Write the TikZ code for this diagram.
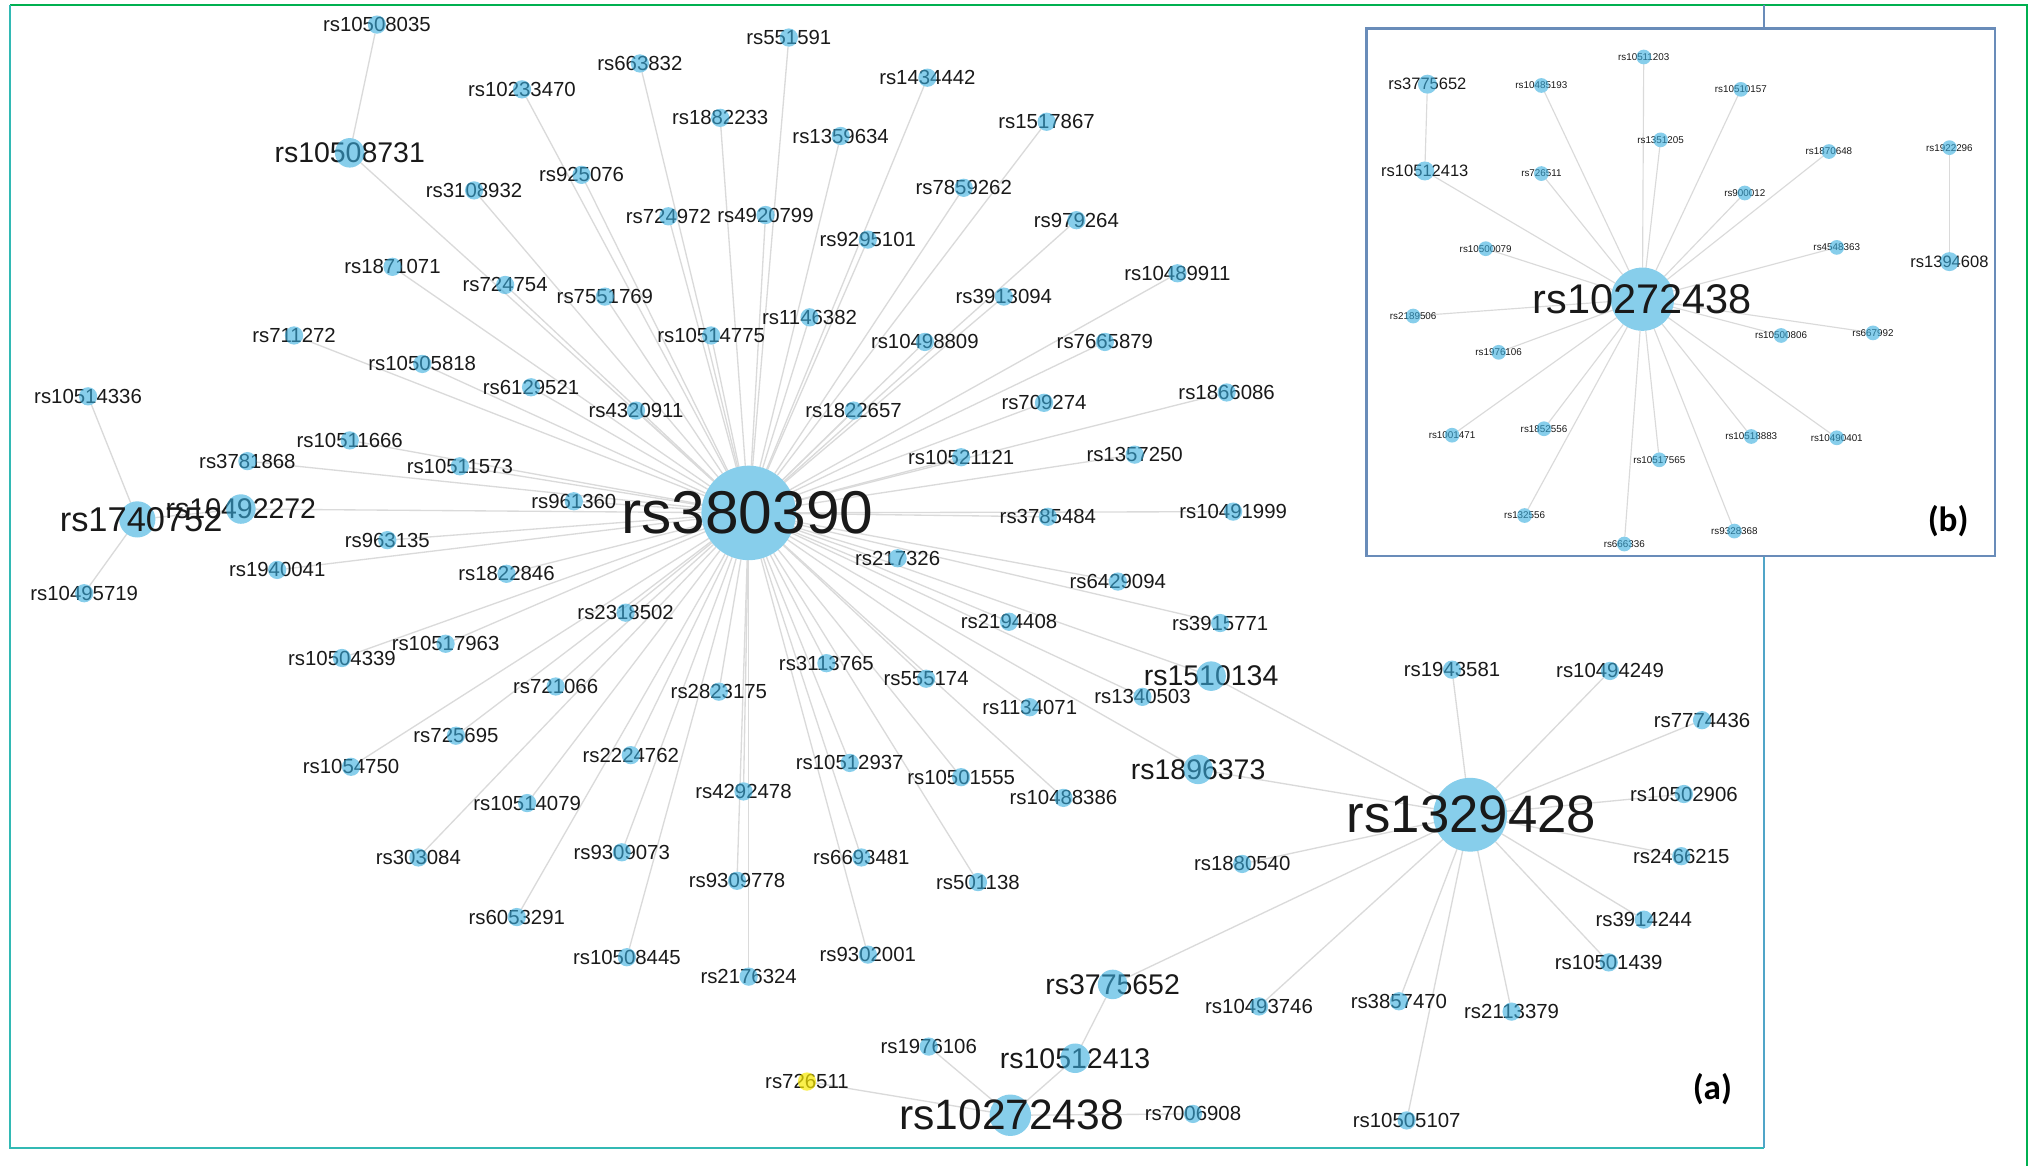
\documentclass[tikz,border=0pt]{standalone}
\usepackage{fontspec}
\setmainfont{Liberation Sans}
\newfontfamily\panelfont{Carlito}
\usetikzlibrary{backgrounds}
\definecolor{nodeblue}{RGB}{135,206,235}
\definecolor{overblue}{RGB}{55,173,222}
\definecolor{edgegray}{RGB}{218,218,218}
\definecolor{labtxt}{RGB}{25,25,25}
\definecolor{frgreen}{RGB}{0,176,80}
\definecolor{frteal}{RGB}{50,185,180}
\definecolor{frright}{RGB}{80,165,200}
\definecolor{frsteel}{RGB}{105,140,185}
\definecolor{hiyellow}{RGB}{248,233,0}
\tikzset{
  dotbase/.style={circle,inner sep=0pt,outer sep=0pt,draw=none,fill=nodeblue},
  overdot/.style={dotbase,fill=overblue,fill opacity=0.6},
  sdot/.style={overdot,minimum size=5.2pt},
  mdot/.style={overdot,minimum size=8.4pt},
  tdot/.style={overdot,minimum size=4.2pt},
  idot/.style={overdot,minimum size=5.4pt},
  lab/.style={inner sep=0pt,outer sep=0pt,text=labtxt},
  slab/.style={lab,font=\fontsize{5.8}{6}\selectfont},
  mlab/.style={lab,font=\fontsize{8.1}{9}\selectfont},
  tlab/.style={lab,font=\fontsize{2.8}{3}\selectfont},
  ilab/.style={lab,font=\fontsize{4.7}{5}\selectfont},
  link/.style={draw=edgegray,line width=0.38pt},
  tlink/.style={draw=edgegray,line width=0.33pt},
  panel/.style={inner sep=0pt,font=\panelfont\bfseries\fontsize{10}{12}\selectfont,text=black},
}
\begin{document}
\begin{tikzpicture}[x=0.012953cm,y=-0.012953cm]
\useasboundingbox (0,0) rectangle (1568,900);
% ---------- frames ----------
\draw[frgreen,line width=0.7pt] (8,4) -- (1565,4) -- (1565,900);
\draw[frteal,line width=0.6pt] (8,4) -- (8,886) -- (1362,886);
\draw[frright,line width=0.6pt] (1362,886) -- (1362,429);
\draw[frsteel,line width=0.6pt] (1362,4) -- (1362,22);
\draw[frsteel,line width=0.6pt] (1055,22) rectangle (1540,429);
% ---------- hubs (panel a) ----------
\node[dotbase,minimum size=26.9pt] (rs380390) at (578,396) {};
\node[dotbase,minimum size=21pt] (rs1329428) at (1135,629) {};
\node[dotbase,minimum size=11.8pt] (rs10272438) at (780,861) {};
\node[dotbase,minimum size=10.3pt] (rs1740752) at (106,401) {};
% ---------- medium nodes ----------
\foreach \n/\x/\y in {rs10508731/270/118, rs10492272/186/393, rs1510134/935/522,
  rs1896373/925/594, rs3775652/859/760, rs10512413/830/817}{
  \node[mlab] at (\x,\y) {\n};
  \node[mdot] (\n) at (\x,\y) {};
}
% ---------- neighbours of rs380390 ----------
\foreach \n/\x/\y in {rs10233470/403/69, rs663832/494/49, rs551591/609/29,
  rs1434442/716/60, rs1882233/556/91, rs1359634/649/105, rs1517867/808/94,
  rs925076/449/135, rs3108932/366/147, rs724972/516/167, rs4920799/591/166,
  rs7859262/744/145, rs9295101/670/185, rs979264/831/170, rs1871071/303/206,
  rs724754/390/220, rs7551769/467/229, rs10514775/549/259, rs1146382/625/245,
  rs3913094/775/229, rs10489911/909/211, rs711272/227/259, rs10505818/326/281,
  rs6129521/410/299, rs4320911/491/317, rs10498809/714/264, rs7665879/853/264,
  rs1822657/659/317, rs709274/806/311, rs1866086/947/303, rs10511666/270/340,
  rs3781868/191/356, rs10511573/355/360, rs961360/443/387, rs10521121/742/353,
  rs1357250/876/351, rs10491999/952/395, rs3785484/809/399, rs963135/299/417,
  rs1940041/214/440, rs1822846/391/443, rs217326/693/431, rs6429094/863/449,
  rs2318502/483/473, rs2194408/779/480, rs3915771/942/481, rs10517963/344/497,
  rs10504339/264/508, rs721066/429/530, rs3113765/638/512, rs555174/715/524,
  rs2823175/555/534, rs1134071/795/546, rs1340503/882/538, rs725695/352/568,
  rs1054750/271/592, rs2224762/487/583, rs10512937/656/589, rs10501555/742/600,
  rs10488386/821/616, rs4292478/574/611, rs10514079/407/620, rs303084/323/662,
  rs9309073/480/658, rs6693481/665/662, rs9309778/569/680, rs501138/755/681,
  rs6053291/399/708, rs10508445/484/739, rs2176324/578/754, rs9302001/670/737}{
  \node[slab] at (\x,\y) {\n};
  \node[sdot] (\n) at (\x,\y) {};
  \begin{pgfonlayer}{background}
    \draw[link] (rs380390) -- (\n);
  \end{pgfonlayer}
}
% ---------- neighbours of rs1329428 ----------
\foreach \n/\x/\y in {rs1943581/1121/517, rs10494249/1243/518, rs7774436/1314/556,
  rs10502906/1300/613, rs2466215/1298/661, rs3914244/1269/710, rs10501439/1242/743,
  rs2113379/1167/781, rs3857470/1080/773, rs10505107/1086/865,
  rs10493746/972/777, rs1880540/959/667}{
  \node[slab] at (\x,\y) {\n};
  \node[sdot] (\n) at (\x,\y) {};
  \begin{pgfonlayer}{background}
    \draw[link] (rs1329428) -- (\n);
  \end{pgfonlayer}
}
% ---------- other small nodes ----------
\foreach \n/\x/\y/\h in {rs10508035/291/19/rs10508731, rs10514336/68/306/rs1740752,
  rs10495719/65/458/rs1740752, rs1976106/717/808/rs10272438,
  rs7006908/921/860/rs10272438}{
  \node[slab] at (\x,\y) {\n};
  \node[sdot] (\n) at (\x,\y) {};
  \begin{pgfonlayer}{background}
    \draw[link] (\h) -- (\n);
  \end{pgfonlayer}
}
\node[slab] at (623,835) {rs726511};
\node[sdot,fill=hiyellow,fill opacity=0.7] (rs726511) at (623,835) {};
% ---------- remaining connectors ----------
\begin{pgfonlayer}{background}
  \draw[link] (rs380390) -- (rs10508731);
  \draw[link] (rs380390) -- (rs10492272);
  \draw[link] (rs380390) -- (rs1510134);
  \draw[link] (rs380390) -- (rs1896373);
  \draw[link] (rs1740752) -- (rs10492272);
  \draw[link] (rs1329428) -- (rs1510134);
  \draw[link] (rs1329428) -- (rs1896373);
  \draw[link] (rs1329428) -- (rs3775652);
  \draw[link] (rs3775652) -- (rs10512413);
  \draw[link] (rs10512413) -- (rs10272438);
  \draw[link] (rs10272438) -- (rs726511);
\end{pgfonlayer}
% ---------- hub labels ----------
\node[lab,font=\fontsize{17.2}{18}\selectfont] at (577,396) {rs380390};
\node[lab,font=\fontsize{15}{16}\selectfont] at (1136,629) {rs1329428};
\node[lab,font=\fontsize{12.1}{13}\selectfont] at (781,861) {rs10272438};
\node[lab,font=\fontsize{9.8}{11}\selectfont] at (109,401) {rs1740752};
\node[panel] (pa) at (1322,841) {(a)};
% ---------- panel b ----------
\node[dotbase,minimum size=18pt] (b-hub) at (1268,231) {};
\foreach \n/\x/\y in {rs10511203/1269/44, rs10485193/1190/66, rs10510157/1344/69,
  rs1351205/1282/108, rs726511/1190/134, rs1870648/1412/117, rs900012/1347/149,
  rs10500079/1147/192, rs4548363/1418/191, rs2189506/1091/244, rs1976106/1157/272,
  rs10500806/1375/259, rs667992/1446/257, rs1001471/1121/336, rs1852556/1192/331,
  rs10517565/1281/355, rs10518883/1352/337, rs10490401/1418/338, rs132556/1177/398,
  rs666336/1254/420, rs9328368/1339/410}{
  \node[tlab] at (\x,\y) {\n};
  \node[tdot] (b\n) at (\x,\y) {};
  \begin{pgfonlayer}{background}
    \draw[tlink] (b-hub) -- (b\n);
  \end{pgfonlayer}
}
\node[ilab] at (1102,65) {rs3775652};
\node[idot] (b-rs3775652) at (1102,65) {};
\node[ilab] at (1100,132) {rs10512413};
\node[idot] (b-rs10512413) at (1100,132) {};
\node[tlab] at (1505,114) {rs1922296};
\node[tdot] (b-rs1922296) at (1505,114) {};
\node[ilab] at (1505,202) {rs1394608};
\node[idot] (b-rs1394608) at (1505,202) {};
\begin{pgfonlayer}{background}
  \draw[tlink] (b-rs3775652) -- (b-rs10512413);
  \draw[tlink] (b-rs10512413) -- (b-hub);
  \draw[tlink] (b-rs1922296) -- (b-rs1394608);
\end{pgfonlayer}
\node[lab,font=\fontsize{11.8}{13}\selectfont] at (1268,231) {rs10272438};
\node[panel] (pb) at (1504,402) {(b)};
\end{tikzpicture}
\end{document}
